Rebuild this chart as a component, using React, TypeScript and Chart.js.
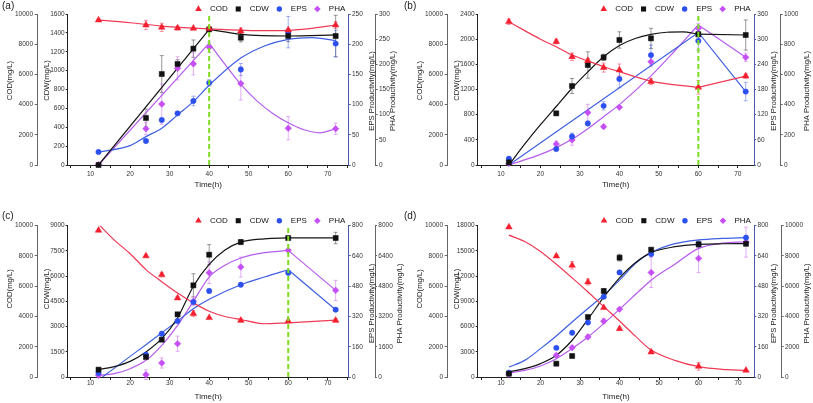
import React, { useEffect, useRef } from 'react';
import { Chart, registerables } from 'chart.js';

Chart.register(...registerables);
Chart.defaults.font.family = '"Liberation Sans", Arial, sans-serif';
Chart.defaults.color = '#333';

type Pair = [number, number];
type Key = 'cod' | 'cdw' | 'eps' | 'pha';

// ---------- shared ----------
const TIME = [12, 24, 28, 32, 36, 40, 48, 60, 72];
const X_TICKS = [5, 10, 15, 20, 25, 30, 35, 40, 45, 50, 55, 60, 65, 70, 75];
const X_LABELED = [10, 20, 30, 40, 50, 60, 70];
const SERIES: Key[] = ['cod', 'cdw', 'eps', 'pha'];
const LABELS: Record<Key, string> = { cod: 'COD', cdw: 'CDW', eps: 'EPS', pha: 'PHA' };
const AXIS_TITLES: Record<Key, string> = {
  cod: 'COD(mg/L)',
  cdw: 'CDW(mg/L)',
  eps: 'EPS Productivity(mg/L)',
  pha: 'PHA Productivity(mg/L)',
};
const X_TITLE = 'Time(h)';

// ---------- panel (a) ----------
const A_COD_TICKS = [0, 2000, 4000, 6000, 8000, 10000];
const A_CDW_TICKS = [0, 200, 400, 600, 800, 1000, 1200, 1400, 1600];
const A_EPS_TICKS = [0, 50, 100, 150, 200, 250];
const A_PHA_TICKS = [0, 50, 100, 150, 200, 250, 300];
const A_COD = [9600, 9270, 9120, 9070, 9050, 9030, 8870, 8940, 9270];
const A_COD_ERR = [60, 310, 275, 130, 60, 60, 210, 80, 220];
const A_CDW = [0, 498, 964, 1070, 1233, 1437, 1349, 1367, 1367];
const A_CDW_ERR = [0, 95, 195, 45, 92, 0, 45, 60, 220];
const A_EPS = [21.5, 39.7, 74.5, 85.5, 106, 136, 158, 220, 201];
const A_EPS_ERR = [0, 0, 0, 3, 8, 5, 10, 26, 22];
const A_PHA = [1, 72, 121, 192, 201, 234, 162, 73, 72];
const A_PHA_ERR = [0, 12, 40, 23, 22, 10, 33, 23, 11];
const A_COD_FIT: Pair[] = [[12, 9600], [20, 9420], [28, 9200], [36, 9060], [44, 8960], [52, 8900], [60, 8920], [66, 9050], [72, 9270]];
const A_CDW_FIT_LINE: Pair[] = [[12, 0], [40, 1437]];
const A_CDW_FIT_CURVE: Pair[] = [[40, 1437], [48, 1385], [60, 1367], [72, 1378]];
const A_EPS_FIT: Pair[] = [[12, 21.5], [20, 32], [24, 47], [28, 61], [32, 83], [36, 105], [40, 132], [48, 177], [54, 197], [60, 208], [66, 211], [72, 206]];
const A_PHA_FIT_LINE: Pair[] = [[12, 0], [40, 242]];
const A_PHA_FIT_CURVE: Pair[] = [[40, 242], [44, 200], [48, 160], [52, 128], [56, 103], [60, 84], [64, 70], [68, 64], [72, 72]];
const A_MARK = 40;

// ---------- panel (b) ----------
const B_COD_TICKS = [0, 2000, 4000, 6000, 8000, 10000];
const B_CDW_TICKS = [0, 400, 800, 1200, 1600, 2000, 2400];
const B_EPS_TICKS = [0, 60, 120, 180, 240, 300, 360];
const B_PHA_TICKS = [0, 200, 400, 600, 800, 1000];
const B_COD = [9490, 8170, 7170, 6910, 6450, 6290, 5520, 5140, 5890];
const B_COD_ERR = [180, 150, 250, 150, 300, 400, 200, 450, 150];
const B_CDW = [42, 821, 1256, 1589, 1711, 1987, 2013, 2077, 2066];
const B_CDW_ERR = [40, 30, 120, 210, 50, 130, 160, 40, 240];
const B_EPS = [15, 38, 68, 99, 141, 205, 262, 296, 175];
const B_EPS_ERR = [0, 0, 8, 0, 10, 21, 24, 22, 22];
const B_PHA = [11, 139, 166, 347, 254, 382, 684, 905, 713];
const B_PHA_ERR = [0, 20, 35, 55, 10, 0, 33, 33, 28];
const B_COD_FIT: Pair[] = [[12, 9490], [16, 8900], [20, 8330], [24, 7830], [28, 7280], [32, 6890], [36, 6510], [40, 6180], [48, 5560], [60, 5140]];
const B_COD_FIT_LINE: Pair[] = [[60, 5140], [72, 5890]];
const B_CDW_FIT: Pair[] = [[12, 0], [16, 330], [20, 640], [24, 930], [28, 1220], [32, 1480], [36, 1720], [40, 1900], [44, 2010], [48, 2075], [52, 2110], [56, 2115], [60, 2080]];
const B_CDW_FIT_LINE: Pair[] = [[60, 2080], [72, 2066]];
const B_EPS_FIT_LINE: Pair[] = [[12, 0], [60, 316], [72, 175]];
const B_PHA_FIT: Pair[] = [[12, 0], [20, 70], [24, 115], [28, 170], [32, 240], [36, 320], [40, 400], [48, 590], [54, 755], [60, 927]];
const B_PHA_FIT_LINE: Pair[] = [[60, 927], [72, 713]];
const B_MARK = 60;

// ---------- panel (c) ----------
const C_COD_TICKS = [0, 2000, 4000, 6000, 8000, 10000];
const C_CDW_TICKS = [0, 1500, 3000, 4500, 6000, 7500, 9000];
const C_EPS_TICKS = [0, 160, 320, 480, 640, 800];
const C_PHA_TICKS = [0, 1600, 3200, 4800, 6400, 8000];
const C_COD = [9690, 8000, 6760, 5220, 4190, 3920, 3740, 3700, 3740];
const C_COD_ERR = [0, 80, 150, 100, 200, 0, 100, 0, 100];
const C_CDW = [436, 1190, 2220, 3727, 5452, 7275, 8028, 8266, 8266];
const C_CDW_ERR = [0, 0, 0, 0, 690, 600, 150, 0, 340];
const C_EPS = [21, 118, 229, 296, 396, 455, 488, 551, 356];
const C_EPS_ERR = [0, 8, 10, 0, 0, 10, 0, 10, 0];
const C_PHA = [88, 123, 740, 1762, 4000, 5515, 5815, 6696, 4581];
const C_PHA_ERR = [0, 260, 270, 400, 230, 570, 530, 0, 530];
const C_COD_FIT: Pair[] = [[12, 10100], [16, 9050], [20, 8150], [24, 7100], [28, 6300], [32, 5550], [36, 4900], [40, 4350], [44, 4000], [48, 3800], [54, 3520], [60, 3580]];
const C_COD_FIT_LINE: Pair[] = [[60, 3580], [72, 3760]];
const C_CDW_FIT: Pair[] = [[12, 450], [16, 620], [20, 930], [24, 1490], [28, 2280], [32, 3510], [36, 5400], [40, 6700], [44, 7550], [48, 8020], [54, 8220], [60, 8270]];
const C_CDW_FIT_LINE: Pair[] = [[60, 8270], [72, 8270]];
const C_EPS_FIT: Pair[] = [[13, 0], [20, 109], [24, 171], [28, 234], [32, 296], [36, 361], [40, 411], [48, 488], [54, 529], [60, 567]];
const C_EPS_FIT_LINE: Pair[] = [[60, 567], [72, 356]];
const C_PHA_FIT: Pair[] = [[12, 88], [16, 176], [20, 440], [24, 880], [28, 1674], [32, 2731], [36, 4000], [40, 5286], [44, 5903], [48, 6290], [54, 6572], [60, 6696]];
const C_PHA_FIT_LINE: Pair[] = [[60, 6696], [72, 4581]];
const C_MARK = 60;

// ---------- panel (d) ----------
const D_COD_TICKS = [0, 2000, 4000, 6000, 8000, 10000];
const D_CDW_TICKS = [0, 3000, 6000, 9000, 12000, 15000, 18000];
const D_EPS_TICKS = [0, 160, 320, 480, 640, 800];
const D_PHA_TICKS = [0, 2000, 4000, 6000, 8000, 10000];
const D_COD = [9910, 7996, 7380, 6280, 4580, 3190, 1650, 700, 440];
const D_COD_ERR = [0, 100, 250, 200, 0, 50, 100, 250, 0];
const D_CDW = [396, 1586, 2498, 7137, 10229, 14194, 15145, 15790, 15850];
const D_CDW_ERR = [0, 150, 0, 0, 300, 400, 0, 400, 0];
const D_EPS = [23, 154, 234, 288, 424, 553, 650, 702, 737];
const D_EPS_ERR = [0, 0, 0, 0, 8, 0, 10, 10, 10];
const D_PHA = [180, 1430, 1940, 2650, 3690, 4480, 6910, 7840, 8910];
const D_PHA_ERR = [0, 100, 100, 150, 150, 0, 1000, 940, 990];
const D_COD_FIT: Pair[] = [[12, 9380], [16, 8950], [20, 8300], [24, 7450], [28, 6550], [32, 5620], [36, 4650], [40, 3700], [44, 2700], [48, 1780], [54, 1100], [60, 680], [66, 500], [72, 440]];
const D_CDW_FIT: Pair[] = [[12, 595], [16, 990], [20, 1590], [24, 2580], [28, 4370], [32, 6870], [36, 9500], [40, 11800], [44, 13600], [48, 14800], [54, 15500], [60, 15780], [66, 15850], [72, 15860]];
const D_EPS_FIT: Pair[] = [[12, 53], [16, 88], [20, 150], [24, 217], [28, 291], [32, 362], [36, 432], [40, 512], [44, 600], [48, 658], [54, 705], [60, 725], [66, 733], [72, 737]];
const D_PHA_FIT: Pair[] = [[12, 260], [16, 440], [20, 730], [24, 1210], [28, 1880], [32, 2650], [36, 3530], [40, 4480], [44, 5450], [48, 6400], [54, 7450], [60, 8500], [66, 8850], [72, 8940]];

// ---------- styles ----------
const STYLE: Record<Key, { shape: string; r: number; point: string; line: string; err: string }> = {
  cod: { shape: 'triangle', r: 3.8, point: '#f41f2e', line: '#ee3a55', err: 'rgba(238,70,100,0.55)' },
  cdw: { shape: 'rect', r: 3.6, point: '#111111', line: '#151515', err: 'rgba(70,70,70,0.55)' },
  eps: { shape: 'circle', r: 2.7, point: '#2c4ff0', line: '#3f5fe2', err: 'rgba(70,100,225,0.5)' },
  pha: { shape: 'rectRot', r: 3.3, point: '#c54ff5', line: '#b65cec', err: 'rgba(205,110,240,0.55)' },
};
const AXIS_COLOR: Record<Key, string> = { cod: '#666', cdw: '#222', eps: '#4a5cae', pha: '#666' };
const MARK_COLOR = '#7ddc1f';
const FONT = '"Liberation Sans", Arial, sans-serif';

type Seg = { s: Key; pts: Pair[]; smooth: boolean };
interface PanelCfg {
  label: string; labelX: number; labelY: number;
  left: number; top: number; w: number; h: number;
  padTop: number; xH: number; xTickPad: number; timeY: number;
  xMin: number; xMax: number;
  widths: Record<Key, number>;
  titleX: Record<Key, number>; leftDy: number; rightDy: number;
  ticks: Record<Key, number[]>;
  values: Record<Key, number[]>;
  errors: Record<Key, number[]>;
  fits: Seg[];
  markX: number | null;
}

const PANELS: PanelCfg[] = [
  {
    label: '(a)', labelX: 2, labelY: 0,
    left: 0, top: 0, w: 405, h: 200,
    padTop: 14, xH: 35, xTickPad: 2.6, timeY: 184.5,
    xMin: 4.2, xMax: 75.3,
    widths: { cod: 37.7, cdw: 30, eps: 27, pha: 29.3 },
    titleX: { cod: 10, cdw: 46.7, eps: 371.7, pha: 393.3 }, leftDy: -9, rightDy: 1.5,
    ticks: { cod: A_COD_TICKS, cdw: A_CDW_TICKS, eps: A_EPS_TICKS, pha: A_PHA_TICKS },
    values: { cod: A_COD, cdw: A_CDW, eps: A_EPS, pha: A_PHA },
    errors: { cod: A_COD_ERR, cdw: A_CDW_ERR, eps: A_EPS_ERR, pha: A_PHA_ERR },
    fits: [
      { s: 'cod', pts: A_COD_FIT, smooth: true },
      { s: 'cdw', pts: A_CDW_FIT_LINE, smooth: false },
      { s: 'cdw', pts: A_CDW_FIT_CURVE, smooth: true },
      { s: 'eps', pts: A_EPS_FIT, smooth: true },
      { s: 'pha', pts: A_PHA_FIT_LINE, smooth: false },
      { s: 'pha', pts: A_PHA_FIT_CURVE, smooth: true },
    ],
    markX: A_MARK,
  },
  {
    label: '(b)', labelX: 404, labelY: 0,
    left: 410, top: 0, w: 403, h: 200,
    padTop: 14, xH: 35, xTickPad: 2.6, timeY: 184.5,
    xMin: 4.1, xMax: 74.1,
    widths: { cod: 37.7, cdw: 30, eps: 26.7, pha: 32.3 },
    titleX: { cod: 10, cdw: 46.7, eps: 364.3, pha: 396.7 }, leftDy: -9, rightDy: 1.5,
    ticks: { cod: B_COD_TICKS, cdw: B_CDW_TICKS, eps: B_EPS_TICKS, pha: B_PHA_TICKS },
    values: { cod: B_COD, cdw: B_CDW, eps: B_EPS, pha: B_PHA },
    errors: { cod: B_COD_ERR, cdw: B_CDW_ERR, eps: B_EPS_ERR, pha: B_PHA_ERR },
    fits: [
      { s: 'cod', pts: B_COD_FIT, smooth: true },
      { s: 'cod', pts: B_COD_FIT_LINE, smooth: false },
      { s: 'cdw', pts: B_CDW_FIT, smooth: true },
      { s: 'cdw', pts: B_CDW_FIT_LINE, smooth: false },
      { s: 'eps', pts: B_EPS_FIT_LINE, smooth: false },
      { s: 'pha', pts: B_PHA_FIT, smooth: true },
      { s: 'pha', pts: B_PHA_FIT_LINE, smooth: false },
    ],
    markX: B_MARK,
  },
  {
    label: '(c)', labelX: 2, labelY: 210,
    left: 0, top: 200, w: 405, h: 203,
    padTop: 25.7, xH: 26, xTickPad: -0.9, timeY: 196.7,
    xMin: 4.2, xMax: 75.3,
    widths: { cod: 37.7, cdw: 30, eps: 26.3, pha: 30 },
    titleX: { cod: 10, cdw: 46.7, eps: 371.7, pha: 400 }, leftDy: -12.5, rightDy: 2,
    ticks: { cod: C_COD_TICKS, cdw: C_CDW_TICKS, eps: C_EPS_TICKS, pha: C_PHA_TICKS },
    values: { cod: C_COD, cdw: C_CDW, eps: C_EPS, pha: C_PHA },
    errors: { cod: C_COD_ERR, cdw: C_CDW_ERR, eps: C_EPS_ERR, pha: C_PHA_ERR },
    fits: [
      { s: 'cod', pts: C_COD_FIT, smooth: true },
      { s: 'cod', pts: C_COD_FIT_LINE, smooth: false },
      { s: 'cdw', pts: C_CDW_FIT, smooth: true },
      { s: 'cdw', pts: C_CDW_FIT_LINE, smooth: false },
      { s: 'eps', pts: C_EPS_FIT, smooth: true },
      { s: 'eps', pts: C_EPS_FIT_LINE, smooth: false },
      { s: 'pha', pts: C_PHA_FIT, smooth: true },
      { s: 'pha', pts: C_PHA_FIT_LINE, smooth: false },
    ],
    markX: C_MARK,
  },
  {
    label: '(d)', labelX: 404, labelY: 210,
    left: 410, top: 200, w: 403, h: 203,
    padTop: 25.7, xH: 26, xTickPad: -0.9, timeY: 196.7,
    xMin: 4.1, xMax: 74.1,
    widths: { cod: 37.7, cdw: 30, eps: 27.4, pha: 31.3 },
    titleX: { cod: 10, cdw: 46.7, eps: 364.3, pha: 396.7 }, leftDy: -12.5, rightDy: 2,
    ticks: { cod: D_COD_TICKS, cdw: D_CDW_TICKS, eps: D_EPS_TICKS, pha: D_PHA_TICKS },
    values: { cod: D_COD, cdw: D_CDW, eps: D_EPS, pha: D_PHA },
    errors: { cod: D_COD_ERR, cdw: D_CDW_ERR, eps: D_EPS_ERR, pha: D_PHA_ERR },
    fits: [
      { s: 'cod', pts: D_COD_FIT, smooth: true },
      { s: 'cdw', pts: D_CDW_FIT, smooth: true },
      { s: 'eps', pts: D_EPS_FIT, smooth: true },
      { s: 'pha', pts: D_PHA_FIT, smooth: true },
    ],
    markX: null,
  },
];

const AXIS_ID: Record<Key, string> = { cod: 'yCOD', cdw: 'yCDW', eps: 'yEPS', pha: 'yPHA' };

function drawMarker(ctx: CanvasRenderingContext2D, s: Key, x: number, y: number) {
  const st = STYLE[s];
  const r = st.r;
  ctx.beginPath();
  if (st.shape === 'triangle') {
    ctx.moveTo(x, y - r);
    ctx.lineTo(x + r * 0.866, y + r * 0.5);
    ctx.lineTo(x - r * 0.866, y + r * 0.5);
    ctx.closePath();
  } else if (st.shape === 'rect') {
    const hs = r * Math.SQRT1_2;
    ctx.rect(x - hs, y - hs, 2 * hs, 2 * hs);
  } else if (st.shape === 'circle') {
    ctx.arc(x, y, r, 0, Math.PI * 2);
  } else {
    ctx.moveTo(x, y - r);
    ctx.lineTo(x + r, y);
    ctx.lineTo(x, y + r);
    ctx.lineTo(x - r, y);
    ctx.closePath();
  }
  ctx.fillStyle = st.point;
  ctx.fill();
}

const errorBarPlugin = {
  id: 'errorBars',
  beforeDatasetsDraw(chart: any) {
    const ctx = chart.ctx;
    chart.data.datasets.forEach((ds: any, di: number) => {
      if (!ds.errColor) return;
      const meta = chart.getDatasetMeta(di);
      const xs = chart.scales[meta.xAxisID];
      const ys = chart.scales[meta.yAxisID];
      ctx.save();
      ctx.strokeStyle = ds.errColor;
      ctx.lineWidth = 1;
      ds.data.forEach((p: any) => {
        if (!p.e) return;
        const px = xs.getPixelForValue(p.x);
        const y1 = ys.getPixelForValue(p.y - p.e);
        const y2 = ys.getPixelForValue(p.y + p.e);
        ctx.beginPath();
        ctx.moveTo(px, y1);
        ctx.lineTo(px, y2);
        ctx.moveTo(px - 2, y1);
        ctx.lineTo(px + 2, y1);
        ctx.moveTo(px - 2, y2);
        ctx.lineTo(px + 2, y2);
        ctx.stroke();
      });
      ctx.restore();
    });
  },
};

function makeDecorPlugin(cfg: PanelCfg) {
  return {
    id: 'decor',
    afterDraw(chart: any) {
      const { ctx, chartArea: ca } = chart;
      ctx.save();
      // legend
      ctx.font = `8px ${FONT}`;
      ctx.textBaseline = 'middle';
      ctx.textAlign = 'left';
      const ly = ca.top - 5;
      let x = ca.right - 3.4;
      for (let i = SERIES.length - 1; i >= 0; i--) {
        const s = SERIES[i];
        const w = ctx.measureText(LABELS[s]).width;
        const tx = x - w;
        ctx.fillStyle = '#111';
        ctx.fillText(LABELS[s], tx, ly);
        const mx = tx - 11.5;
        drawMarker(ctx, s, mx, ly);
        x = mx - 10.5;
      }
      // axis titles
      const cy = (ca.top + ca.bottom) / 2;
      ctx.font = `7.7px ${FONT}`;
      ctx.fillStyle = '#222';
      ctx.textAlign = 'center';
      SERIES.forEach((s) => {
        const dy = s === 'cod' || s === 'cdw' ? cfg.leftDy : cfg.rightDy;
        ctx.save();
        ctx.translate(cfg.titleX[s], cy + dy);
        ctx.rotate(-Math.PI / 2);
        ctx.fillText(AXIS_TITLES[s], 0, 0);
        ctx.restore();
      });
      ctx.font = `8px ${FONT}`;
      ctx.fillText(X_TITLE, (ca.left + ca.right) / 2, cfg.timeY);
      ctx.restore();
    },
  };
}

function yAxis(cfg: PanelCfg, s: Key, position: string, weight: number, tl: number, pad: number) {
  const ticks = cfg.ticks[s];
  return {
    type: 'linear',
    position,
    weight,
    min: 0,
    max: ticks[ticks.length - 1],
    afterBuildTicks: (sc: any) => {
      sc.ticks = ticks.map((v) => ({ value: v }));
    },
    afterFit: (sc: any) => {
      sc.width = cfg.widths[s];
    },
    ticks: {
      font: { size: 6.5 },
      color: '#333',
      padding: pad,
      autoSkip: false,
      callback: (v: any) => String(v),
    },
    grid: { display: true, drawOnChartArea: false, drawTicks: true, tickLength: tl, color: AXIS_COLOR[s], lineWidth: 1 },
    border: { display: true, color: AXIS_COLOR[s], width: 1 },
    title: { display: false },
  };
}

function buildConfig(cfg: PanelCfg): any {
  const datasets: any[] = [];
  SERIES.forEach((s) => {
    const st = STYLE[s];
    datasets.push({
      label: LABELS[s],
      data: TIME.map((x, i) => ({ x, y: cfg.values[s][i], e: cfg.errors[s][i] })),
      yAxisID: AXIS_ID[s],
      showLine: false,
      pointStyle: st.shape,
      pointRadius: st.r,
      pointBackgroundColor: st.point,
      pointBorderColor: st.point,
      pointBorderWidth: 0.5,
      errColor: st.err,
      clip: false,
      order: 1,
    });
  });
  cfg.fits.forEach((f) => {
    datasets.push({
      label: LABELS[f.s] + ' fit',
      data: f.pts.map(([x, y]) => ({ x, y })),
      yAxisID: AXIS_ID[f.s],
      borderColor: STYLE[f.s].line,
      borderWidth: 1.2,
      pointRadius: 0,
      fill: false,
      tension: f.smooth ? 0.4 : 0,
      cubicInterpolationMode: f.smooth ? 'monotone' : 'default',
      order: 2,
    });
  });
  if (cfg.markX !== null) {
    const cdwTicks = cfg.ticks.cdw;
    datasets.push({
      label: 'mark',
      data: [
        { x: cfg.markX, y: 0 },
        { x: cfg.markX, y: cdwTicks[cdwTicks.length - 1] },
      ],
      yAxisID: 'yCDW',
      borderColor: MARK_COLOR,
      borderWidth: 2,
      borderDash: [5, 3],
      pointRadius: 0,
      fill: false,
      order: 0,
    });
  }

  return {
    type: 'line',
    data: { datasets },
    plugins: [errorBarPlugin, makeDecorPlugin(cfg)],
    options: {
      responsive: false,
      maintainAspectRatio: false,
      animation: false,
      events: [],
      devicePixelRatio: 1,
      layout: { padding: { top: cfg.padTop, left: 0, right: 0, bottom: 0 } },
      plugins: { legend: { display: false }, tooltip: { enabled: false }, title: { display: false } },
      scales: {
        x: {
          type: 'linear',
          position: 'bottom',
          min: cfg.xMin,
          max: cfg.xMax,
          afterBuildTicks: (sc: any) => {
            sc.ticks = X_TICKS.filter((v) => v >= cfg.xMin && v <= cfg.xMax).map((v) => ({ value: v }));
          },
          afterFit: (sc: any) => {
            sc.height = cfg.xH;
          },
          ticks: {
            font: { size: 6.5 },
            color: '#333',
            padding: cfg.xTickPad,
            autoSkip: false,
            maxRotation: 0,
            minRotation: 0,
            callback: (v: any) => (X_LABELED.includes(v) ? String(v) : ''),
          },
          grid: { display: true, drawOnChartArea: false, drawTicks: true, tickLength: 3, color: '#222' },
          border: { display: true, color: '#222', width: 1 },
          title: { display: false },
        },
        yCOD: yAxis(cfg, 'cod', 'left', 1, 3, 1.7),
        yCDW: yAxis(cfg, 'cdw', 'left', 0, 2, 1),
        yEPS: yAxis(cfg, 'eps', 'right', 0, 2, 1.3),
        yPHA: yAxis(cfg, 'pha', 'right', 1, 2, 1.3),
      },
    },
  };
}

function Panel({ cfg }: { cfg: PanelCfg }) {
  const ref = useRef<HTMLCanvasElement>(null);
  useEffect(() => {
    if (!ref.current) return;
    const chart = new Chart(ref.current, buildConfig(cfg));
    return () => chart.destroy();
  }, [cfg]);
  return (
    <canvas
      ref={ref}
      width={cfg.w}
      height={cfg.h}
      style={{ position: 'absolute', left: cfg.left, top: cfg.top, width: cfg.w, height: cfg.h }}
    />
  );
}

export default function App() {
  return (
    <div style={{ position: 'absolute', left: 0, top: 0, width: 813, height: 403, background: '#fff', overflow: 'hidden' }}>
      {PANELS.map((p) => (
        <Panel key={p.label} cfg={p} />
      ))}
      {PANELS.map((p) => (
        <div
          key={'lbl' + p.label}
          style={{
            position: 'absolute',
            left: p.labelX,
            top: p.labelY,
            font: `10px ${FONT}`,
            lineHeight: '12px',
            color: '#222',
          }}
        >
          {p.label}
        </div>
      ))}
    </div>
  );
}
